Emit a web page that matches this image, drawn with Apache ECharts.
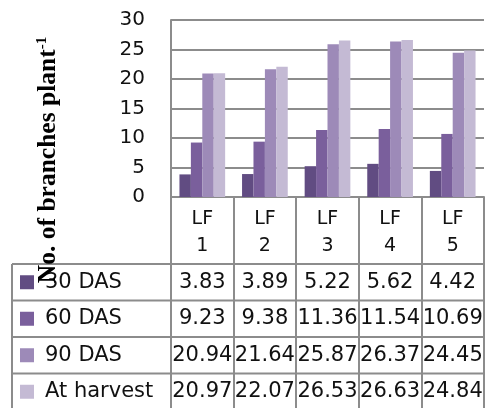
<!DOCTYPE html>
<html>
<head>
<meta charset="utf-8">
<script src="https://cdn.jsdelivr.net/npm/echarts@6/dist/echarts.min.js"></script>
<style>
  html, body { margin: 0; padding: 0; background: #fff; }
  #chart { width: 485px; height: 408px; }
</style>
</head>
<body>
<div id="chart"></div>
<script>
// Leaf-fertiliser treatments and the number of branches per plant at each stage
const categories = ['LF 1', 'LF 2', 'LF 3', 'LF 4', 'LF 5'];
const seriesNames = ['30 DAS', '60 DAS', '90 DAS', 'At harvest'];
const das30 = [3.83, 3.89, 5.22, 5.62, 4.42];
const das60 = [9.23, 9.38, 11.36, 11.54, 10.69];
const das90 = [20.94, 21.64, 25.87, 26.37, 24.45];
const atHarvest = [20.97, 22.07, 26.53, 26.63, 24.84];
const yTicks = [0, 5, 10, 15, 20, 25, 30];

const seriesValues = [das30, das60, das90, atHarvest];
const colors = ['#614c82', '#7a5f9c', '#9d8ab8', '#c4bad4'];
const lineGray = '#8c8c8c';
const sans = 'DejaVu Sans';

const chart = echarts.init(document.getElementById('chart'));

const plotTop = 20, plotBottom = 197, plotLeft = 171, plotRight = 484;

chart.setOption({
  animation: false,
  grid: { left: plotLeft, right: 485 - plotRight, top: plotTop, bottom: 408 - plotBottom, containLabel: false },
  xAxis: {
    type: 'category',
    data: categories,
    axisLine: { show: true, lineStyle: { color: lineGray, width: 2 } },
    axisTick: { show: true, interval: 0, length: 215, lineStyle: { color: lineGray, width: 2 } },
    axisLabel: {
      interval: 0, margin: 9, lineHeight: 27,
      fontFamily: sans, fontSize: 19, color: '#111',
      formatter: v => v.replace(' ', '\n')
    }
  },
  yAxis: {
    type: 'value',
    min: yTicks[0], max: yTicks[yTicks.length - 1], interval: yTicks[1] - yTicks[0],
    axisLine: { show: true, lineStyle: { color: lineGray, width: 2 } },
    axisTick: { show: false },
    splitLine: { show: true, lineStyle: { color: lineGray, width: 2 } },
    axisLabel: { margin: 26, fontFamily: sans, fontSize: 20, color: '#111' }
  },
  series: seriesNames.map((name, i) => ({
    name, type: 'bar',
    data: seriesValues[i],
    barGap: '0%', barCategoryGap: '27%',
    itemStyle: { color: colors[i] }
  }))
});

// Data table under the plot: legend column plus one value per treatment
const tableTop = 264, rowH = 36.5, tableLeft = 12, tableRight = 485;
const graphics = [];

graphics.push({
  type: 'text', x: 48, y: 160, rotation: Math.PI / 2,
  style: {
    text: '{m|No. of branches plant}{s|-1}',
    align: 'center', verticalAlign: 'middle',
    rich: {
      m: { fontFamily: 'Liberation Serif', fontWeight: 'bold', fontSize: 25.5, lineHeight: 27, fill: '#000' },
      s: { fontFamily: 'Liberation Serif', fontWeight: 'bold', fontSize: 15, lineHeight: 27, verticalAlign: 'top', fill: '#000' }
    }
  }, z: 100
});

for (let r = 0; r < seriesNames.length; r++) {
  const y = tableTop + r * rowH;
  graphics.push({
    type: 'line', shape: { x1: tableLeft, y1: y, x2: tableRight, y2: y },
    style: { stroke: lineGray, lineWidth: 2 }
  });
}
graphics.push({
  type: 'line', shape: { x1: tableLeft, y1: tableTop, x2: tableLeft, y2: 410 },
  style: { stroke: lineGray, lineWidth: 2 }
});

seriesNames.forEach((name, r) => {
  const cy = tableTop + r * rowH + rowH / 2;
  graphics.push({
    type: 'rect', shape: { x: 20, y: cy - 7, width: 14, height: 14 },
    style: { fill: colors[r] }
  });
  graphics.push({
    type: 'text', x: 45, y: cy,
    style: { text: name, fontFamily: sans, fontSize: 21, fill: '#111', align: 'left', verticalAlign: 'middle' }
  });
  seriesValues[r].forEach((v, c) => {
    const cx = chart.convertToPixel({ xAxisIndex: 0 }, categories[c]);
    graphics.push({
      type: 'text', x: cx, y: cy,
      style: { text: v.toFixed(2), fontFamily: sans, fontSize: 21, fill: '#111', align: 'center', verticalAlign: 'middle' }
    });
  });
});

chart.setOption({ graphic: graphics });
</script>
</body>
</html>
